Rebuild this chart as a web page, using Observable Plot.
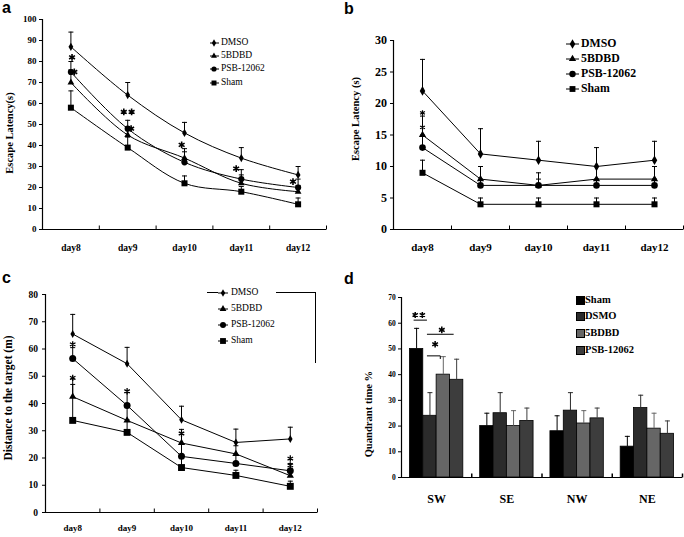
<!DOCTYPE html>
<html>
<head>
<meta charset="utf-8">
<script src="https://cdn.jsdelivr.net/npm/d3@7"></script>
<script src="https://cdn.jsdelivr.net/npm/@observablehq/plot@0.6"></script>
<style>
  html,body{margin:0;padding:0;background:#fff;}
  #root{position:relative;width:684px;height:537px;overflow:hidden;background:#fff;font-family:"Liberation Serif","Times New Roman",serif;}
  .legtext{position:absolute;white-space:nowrap;line-height:1;transform:translateY(-50%);color:#000;}
</style>
</head>
<body>
<div id="root"></div>
<script>
// ---------- shared categories ----------
const days = ["day8", "day9", "day10", "day11", "day12"];
const series = ["DMSO", "5BDBD", "PSB-12062", "Sham"];
const symbolNames = ["diamond", "triangle", "circle", "square"];

// ---------- panel a: escape latency (training) ----------
const aDMSO = [87, 64, 46, 34, 26];
const aDMSOErr = [94, 70, 51, 39, 30];
const a5BDBD = [70, 45, 34, 22, 18];
const a5BDBDErr = [76, 49, 37, 26, 21];
const aPSB = [75, 48, 32, 24, 20];
const aPSBErr = [80, 52, 38.5, 28.5, 24];
const aSham = [58, 39, 22, 18, 12];
const aShamErr = [66, 44, 25.5, 20.5, 15];
const aStarX = [0.02, 0.06, 1.0, 1.06, 1.95, 2.91, 3.91];
const aStarY = [82, 75, 56, 48, 40.3, 29, 22.8];
const aStarText = ["*", "*", "**", "*", "*", "*", "*"];
const aYTicks = [0, 10, 20, 30, 40, 50, 60, 70, 80, 90, 100];

// ---------- panel b: escape latency ----------
const bDMSO = [22, 12, 11, 10, 11];
const bDMSOErr = [27, 16, 14, 13, 14];
const b5BDBD = [15, 8, 7, 8, 8];
const b5BDBDErr = [18, 10, 9, 10, 10];
const bPSB = [13, 7, 7, 7, 7];
const bPSBErr = [15, 8, 8, 8, 8];
const bSham = [9, 4, 4, 4, 4];
const bShamErr = [11, 5, 5, 5, 5];
const bStarX = [0, 0];
const bStarY = [18.5, 16.2];
const bStarText = ["*", "*"];
const bYTicks = [0, 5, 10, 15, 20, 25, 30];

// ---------- panel c: distance to the target ----------
const cDMSO = [65.5, 54.6, 34, 25.7, 27];
const cDMSOErr = [72.7, 60.6, 39, 30.6, 31.3];
const c5BDBD = [42.5, 33.8, 25.5, 21.5, 13.5];
const c5BDBDErr = [49, 40, 30.5, 24.5, 16];
const cPSB = [56.5, 39.3, 20.6, 18, 15.3];
const cPSBErr = [60.5, 44, 25, 21, 18];
const cSham = [33.8, 29.4, 16.5, 13.6, 9.6];
const cShamErr = [47, 34, 21, 15.5, 11.5];
const cStarX = [0, 0, 1, 2, 4, 4];
const cStarY = [61.7, 49.4, 44.5, 29, 19.8, 17.3];
const cStarText = ["*", "*", "*", "*", "*", "*"];
const cYTicks = [0, 10, 20, 30, 40, 50, 60, 70, 80];

// ---------- panel d: quadrant time ----------
const quads = ["SW", "SE", "NW", "NE"];
const dSeries = ["Sham", "DSMO", "5BDBD", "PSB-12062"];
const dColors = ["#000000", "#2b2b2b", "#666666", "#3d3d3d"];
const dSham = [50, 20, 18, 12];
const dShamErr = [58, 25, 24, 16];
const dDSMO = [24, 25, 26, 27];
const dDSMOErr = [33, 33, 33, 32];
const d5BDBD = [40, 20, 21, 19];
const d5BDBDErr = [47, 26, 26, 25];
const dPSB = [38, 22, 23, 17];
const dPSBErr = [46, 27, 27, 22];
const dAnnText = ["**", "*", "*"];
const dAnnY = [63.2, 57.4, 51.8];
const dLineY = [61.2, 55.7, 47.3];
const dLineFrom = [0, 1, 1];
const dLineTo = [1, 3, 2];
const dLineDrop = [0, 0, 1.2];
const dYTicks = [0, 10, 20, 30, 40, 50, 60, 70];

// ---------- helpers ----------
const root = document.getElementById("root");
const capSym = {draw(ctx) { ctx.moveTo(-2.5, 0); ctx.lineTo(2.5, 0); }};
const tickUpSym = {draw(ctx) { ctx.moveTo(0, 0); ctx.lineTo(0, -4); }};
function asterisk(ctx, cx, r) {
  for (const a of [90, 30, -30]) {
    const t = a * Math.PI / 180;
    ctx.moveTo(cx - r * Math.cos(t), -r * Math.sin(t));
    ctx.lineTo(cx + r * Math.cos(t), r * Math.sin(t));
  }
}
const makeStar = r => ({draw(ctx) { asterisk(ctx, 0, r); }});
const makeStar2 = r => ({draw(ctx) { asterisk(ctx, -r * 1.15, r); asterisk(ctx, r * 1.15, r); }});
const d3Symbols = [d3.symbolDiamond, d3.symbolTriangle, d3.symbolCircle, d3.symbolSquare];

function place(node, left, top) {
  node.style.position = "absolute";
  node.style.left = left + "px";
  node.style.top = top + "px";
  root.appendChild(node);
}

function linePanel(o) {
  const rows = [];
  series.forEach((s, k) => days.forEach((d, i) => rows.push({s, k, i, v: o.vals[k][i], e: o.errs[k][i]})));
  const stars = o.starX.map((x, j) => ({x, y: o.starY[j], t: o.starText[j]}));
  const bounds = days.map((d, i) => i + 0.5);
  return Plot.plot({
    width: 342, height: o.height,
    marginLeft: o.ml, marginRight: o.mr, marginTop: o.mt, marginBottom: o.mb,
    style: {fontFamily: "'Liberation Serif', 'Times New Roman', serif", fontWeight: "bold", fontSize: o.yFont + "px", color: "black", background: "transparent", overflow: "visible"},
    x: {type: "linear", domain: [-0.5, days.length - 0.5], axis: null},
    y: {domain: [o.yTicks[0], o.yTicks[o.yTicks.length - 1]], ticks: o.yTicks, tickSize: 3, tickPadding: o.yPad, label: null},
    symbol: {domain: series, range: symbolNames},
    r: {type: "identity"},
    marks: [
      Plot.ruleY([o.yTicks[0]], {stroke: "black", strokeWidth: 1.2}),
      Plot.ruleX([-0.5], {stroke: "black", strokeWidth: 1.2}),
      Plot.dot(bounds, {x: d => d, y: () => o.yTicks[0], symbol: tickUpSym, stroke: "black", strokeWidth: 1}),
      Plot.text(days, {x: (d, i) => i, y: () => o.yTicks[0], text: d => d, dy: o.xDy, fontSize: o.xFont, fontWeight: "bold", fill: "black"}),
      Plot.line(rows, {x: "i", y: "v", z: "s", curve: o.curve, stroke: "black", strokeWidth: 1}),
      Plot.ruleX(rows, {x: "i", y1: "v", y2: "e", stroke: "black", strokeWidth: 1}),
      Plot.dot(rows, {x: "i", y: "e", symbol: capSym, stroke: "black", strokeWidth: 1}),
      Plot.dot(rows, {x: "i", y: "v", symbol: "s", fill: "black", r: d => o.rs[d.k]}),
      Plot.dot(stars.filter(d => d.t === "*"), {x: "x", y: "y", symbol: makeStar(o.starR), stroke: "black", strokeWidth: o.starW}),
      Plot.dot(stars.filter(d => d.t === "**"), {x: "x", y: "y", symbol: makeStar2(o.starR), stroke: "black", strokeWidth: o.starW}),
      Plot.text([o.title], {frameAnchor: "left", textAnchor: "middle", rotate: -90, dx: o.tdx, dy: o.tdy, fontSize: o.titleFont, fontWeight: "bold", fill: "black"})
    ]
  });
}

function lineLegend(o) {
  series.forEach((s, k) => {
    const y = o.ys[k];
    const svg = d3.create("svg").attr("width", o.lx2 - o.lx1 + 10).attr("height", 16).style("overflow", "visible");
    svg.append("line").attr("x1", 5).attr("x2", 5 + o.lx2 - o.lx1).attr("y1", 8).attr("y2", 8).attr("stroke", "black").attr("stroke-width", 1);
    svg.append("path").attr("d", d3.symbol(d3Symbols[k], Math.PI * o.rs[k] * o.rs[k])())
      .attr("transform", `translate(${5 + o.mx - o.lx1},8)`).attr("fill", "black");
    place(svg.node(), o.lx1 - 5, y - 8);
    const t = document.createElement("div");
    t.className = "legtext";
    t.textContent = s;
    t.style.fontSize = o.size + "px";
    t.style.fontWeight = o.weight;
    t.style.fontFamily = o.font;
    place(t, o.tx, y);
  });
}

// ---------- panel a ----------
const plotA = linePanel({
  vals: [aDMSO, a5BDBD, aPSB, aSham], errs: [aDMSOErr, a5BDBDErr, aPSBErr, aShamErr],
  starX: aStarX, starY: aStarY, starText: aStarText, yTicks: aYTicks,
  height: 270, ml: 42, mr: 16, mt: 19, mb: 41, yFont: 9, yPad: 3, xFont: 9.5, xDy: 18,
  curve: "catmull-rom", rs: [2.5, 2.5, 3.1, 3.4], starR: 3.4, starW: 1.6,
  title: "Escape Latency(s)", tdx: -33, tdy: 8.5, titleFont: 10.5
});
place(plotA, 0, 0);
lineLegend({lx1: 210, lx2: 219, mx: 214, tx: 221, ys: [42.7, 56.2, 69.3, 82.5], rs: [2.2, 2.2, 2.6, 2.8],
  font: "'Liberation Serif', serif", size: 9.5, weight: "normal"});

// ---------- panel b ----------
const plotB = linePanel({
  vals: [bDMSO, b5BDBD, bPSB, bSham], errs: [bDMSOErr, b5BDBDErr, bPSBErr, bShamErr],
  starX: bStarX, starY: bStarY, starText: bStarText, yTicks: bYTicks,
  height: 270, ml: 51, mr: 1, mt: 40, mb: 41, yFont: 12, yPad: 3.5, xFont: 11, xDy: 18,
  curve: "linear", rs: [2.9, 2.7, 3.3, 3.4], starR: 2.8, starW: 1.2,
  title: "Escape Latency (s)", tdx: -38, tdy: -16, titleFont: 10.5
});
place(plotB, 342, 0);
lineLegend({lx1: 566, lx2: 579, mx: 572.5, tx: 581, ys: [44, 59.3, 74, 89.3], rs: [2.9, 2.7, 3.2, 3.3],
  font: "'Liberation Serif', serif", size: 11.8, weight: "bold"});

// ---------- panel c ----------
const plotC = linePanel({
  vals: [cDMSO, c5BDBD, cPSB, cSham], errs: [cDMSOErr, c5BDBDErr, cPSBErr, cShamErr],
  starX: cStarX, starY: cStarY, starText: cStarText, yTicks: cYTicks,
  height: 267, ml: 45, mr: 25, mt: 24, mb: 25, yFont: 9.5, yPad: 4.5, xFont: 9, xDy: 16,
  curve: "linear", rs: [2.4, 2.7, 3.5, 3.9], starR: 3.2, starW: 1.3,
  title: "Distance to the target (m)", tdx: -37.5, tdy: -5.5, titleFont: 11.5
});
place(plotC, 0, 270);
// decorative chart-area border fragment behind the legend
(function () {
  const l1 = document.createElement("div");
  l1.style.cssText = "width:11px;height:0;border-top:1px solid #000;";
  place(l1, 207, 292);
  const l2 = document.createElement("div");
  l2.style.cssText = "width:39px;height:70px;border-top:1px solid #000;border-right:1px solid #000;";
  place(l2, 276, 292);
})();
lineLegend({lx1: 218, lx2: 228, mx: 223, tx: 231, ys: [293.3, 309.3, 325, 340.7], rs: [2.3, 2.5, 3, 3.3],
  font: "'Liberation Serif', serif", size: 9.5, weight: "normal"});

// ---------- panel d ----------
(function () {
  const vals = [dSham, dDSMO, d5BDBD, dPSB];
  const errs = [dShamErr, dDSMOErr, d5BDBDErr, dPSBErr];
  const bw = 0.19, pad = (1 - dSeries.length * bw) / 2;
  const center = (g, k) => g - 0.5 + pad + (k + 0.5) * bw;
  const bars = [];
  quads.forEach((q, g) => dSeries.forEach((s, k) => bars.push({
    s, g, x1: g - 0.5 + pad + k * bw, x2: g - 0.5 + pad + (k + 1) * bw, c: center(g, k),
    v: vals[k][g], e: errs[k][g]
  })));
  const ann = dAnnText.map((t, j) => ({
    t, y: dAnnY[j], ly: dLineY[j], x1: center(0, dLineFrom[j]), x2: center(0, dLineTo[j]), drop: dLineDrop[j]
  }));
  const bounds = quads.map((q, i) => i + 0.5);
  const plotD = Plot.plot({
    width: 342, height: 267, marginLeft: 59, marginRight: 2, marginTop: 27, marginBottom: 60,
    style: {fontFamily: "'Liberation Serif', 'Times New Roman', serif", fontWeight: "bold", fontSize: "7.5px", color: "black", background: "transparent", overflow: "visible"},
    x: {type: "linear", domain: [-0.5, quads.length - 0.5], axis: null},
    y: {domain: [0, 70], ticks: dYTicks, tickSize: 3, tickPadding: 2.7, label: null},
    color: {domain: dSeries, range: dColors},
    marks: [
      Plot.rectY(bars, {x1: "x1", x2: "x2", y: "v", fill: "s", stroke: "black", strokeWidth: 0.8}),
      Plot.ruleX(bars, {x: "c", y1: "v", y2: "e", stroke: "s", strokeWidth: 1}),
      Plot.dot(bars, {x: "c", y: "e", symbol: capSym, stroke: "s", strokeWidth: 1}),
      Plot.ruleY([0], {stroke: "black", strokeWidth: 1.2}),
      Plot.ruleX([-0.5], {stroke: "black", strokeWidth: 1.2}),
      Plot.dot(bounds, {x: d => d, y: () => 0, symbol: tickUpSym, stroke: "black"}),
      Plot.text(quads, {x: (d, i) => i, y: () => 0, text: d => d, dy: 21.7, fontSize: 12, fontWeight: "bold", fill: "black"}),
      Plot.link(ann, {x1: "x1", x2: "x2", y1: "ly", y2: "ly", dx: -3, stroke: "black", strokeWidth: 1}),
      Plot.link(ann.filter(a => a.drop > 0), {x1: "x2", x2: "x2", y1: "ly", y2: d => d.ly - d.drop, dx: -3, stroke: "black", strokeWidth: 1}),
      Plot.dot(ann.filter(a => a.t === "*"), {x: d => (d.x1 + d.x2) / 2, y: "y", dx: -1.5, symbol: makeStar(3.3), stroke: "black", strokeWidth: 1.5}),
      Plot.dot(ann.filter(a => a.t === "**"), {x: d => (d.x1 + d.x2) / 2, y: "y", dx: -4.5, symbol: makeStar2(3.1), stroke: "black", strokeWidth: 1.5}),
      Plot.text(["Quandrant time %"], {frameAnchor: "left", textAnchor: "middle", rotate: -90, dx: -33, dy: 26.6, fontSize: 10.6, fontWeight: "bold", fill: "black"})
    ]
  });
  place(plotD, 342, 270);
  // legend
  dSeries.forEach((s, k) => {
    const y = [300, 316, 332.7, 349.5][k];
    const sq = document.createElement("div");
    sq.style.cssText = `width:7px;height:7px;background:${dColors[k]};border:0.5px solid #000;`;
    place(sq, 575.5, y - 4);
    const t = document.createElement("div");
    t.className = "legtext";
    t.textContent = s;
    t.style.fontSize = "10.5px";
    t.style.fontWeight = "bold";
    place(t, 585, y);
  });
})();

// ---------- panel letters ----------
(function () {
  const svg = d3.create("svg").attr("width", 684).attr("height", 537).style("pointer-events", "none");
  const letters = [["a", 2, 12.5], ["b", 344, 14], ["c", 2, 282.5], ["d", 344, 284]];
  svg.selectAll("text").data(letters).join("text")
    .attr("x", d => d[1]).attr("y", d => d[2]).text(d => d[0])
    .attr("font-family", "'Liberation Sans', Arial, sans-serif").attr("font-weight", "bold").attr("font-size", 16);
  place(svg.node(), 0, 0);
})();
</script>
</body>
</html>
